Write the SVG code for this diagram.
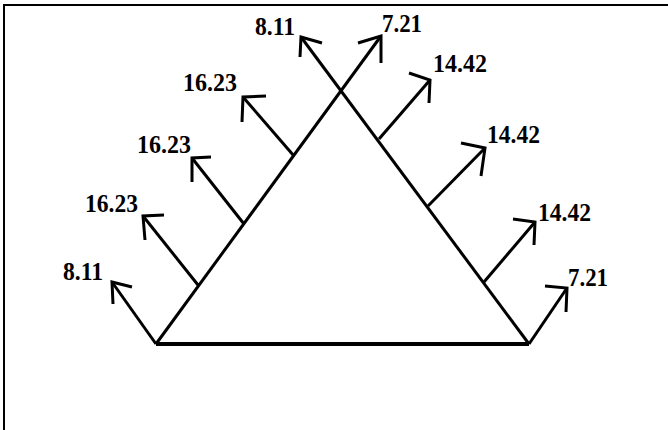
<svg xmlns="http://www.w3.org/2000/svg" width="668" height="430" viewBox="0 0 668 430">
<style>
.ln{fill:none;stroke:#000;stroke-width:3;stroke-linecap:butt;stroke-linejoin:miter}
.lbl{font-family:"Liberation Serif","Times New Roman",serif;font-weight:bold;font-size:26px;fill:#000}
</style>
<rect width="668" height="430" fill="#fff"/>
<g id="frame">
<polyline points="4,430 4,5 668,5" fill="none" stroke="#000" stroke-width="2"/>
</g>
<g id="triangle">
<line x1="156" y1="344" x2="529" y2="344" stroke="#000" stroke-width="4"/>
</g>
<g id="connectors">
<line class="ln" x1="156" y1="344" x2="381" y2="36"/>
<polyline class="ln" points="358,43 381,36 381,63"/>
<line class="ln" x1="529" y1="344" x2="301" y2="37"/>
<polyline class="ln" points="322,43 301,37 300,57"/>
<line class="ln" x1="156" y1="344" x2="112" y2="282"/>
<polyline class="ln" points="132,287 112,282 113,304"/>
<line class="ln" x1="198" y1="285" x2="143" y2="216"/>
<polyline class="ln" points="164,215 143,216 145,240"/>
<line class="ln" x1="244" y1="224" x2="192" y2="158"/>
<polyline class="ln" points="211,157 192,158 192,182"/>
<line class="ln" x1="294" y1="156" x2="243" y2="97"/>
<polyline class="ln" points="266,96 243,97 242,122"/>
<line class="ln" x1="379" y1="139" x2="430" y2="80"/>
<polyline class="ln" points="409,73 430,80 429,103"/>
<line class="ln" x1="428" y1="206" x2="485" y2="148"/>
<polyline class="ln" points="461,143 485,148 481,176"/>
<line class="ln" x1="484" y1="282" x2="535" y2="222"/>
<polyline class="ln" points="513,219 535,222 534,245"/>
<line class="ln" x1="529" y1="344" x2="567" y2="288"/>
<polyline class="ln" points="545,286 567,288 566,312"/>
</g>
<g id="labels">
<text class="lbl" x="255" y="35" textLength="40" lengthAdjust="spacingAndGlyphs">8.11</text>
<text class="lbl" x="382" y="32" textLength="40" lengthAdjust="spacingAndGlyphs">7.21</text>
<text class="lbl" x="183" y="91" textLength="54" lengthAdjust="spacingAndGlyphs">16.23</text>
<text class="lbl" x="137" y="153" textLength="54" lengthAdjust="spacingAndGlyphs">16.23</text>
<text class="lbl" x="85" y="212" textLength="53" lengthAdjust="spacingAndGlyphs">16.23</text>
<text class="lbl" x="63" y="280" textLength="40" lengthAdjust="spacingAndGlyphs">8.11</text>
<text class="lbl" x="433" y="72" textLength="54" lengthAdjust="spacingAndGlyphs">14.42</text>
<text class="lbl" x="487" y="143" textLength="53" lengthAdjust="spacingAndGlyphs">14.42</text>
<text class="lbl" x="538" y="221" textLength="53" lengthAdjust="spacingAndGlyphs">14.42</text>
<text class="lbl" x="568" y="286" textLength="40" lengthAdjust="spacingAndGlyphs">7.21</text>
</g>
</svg>
